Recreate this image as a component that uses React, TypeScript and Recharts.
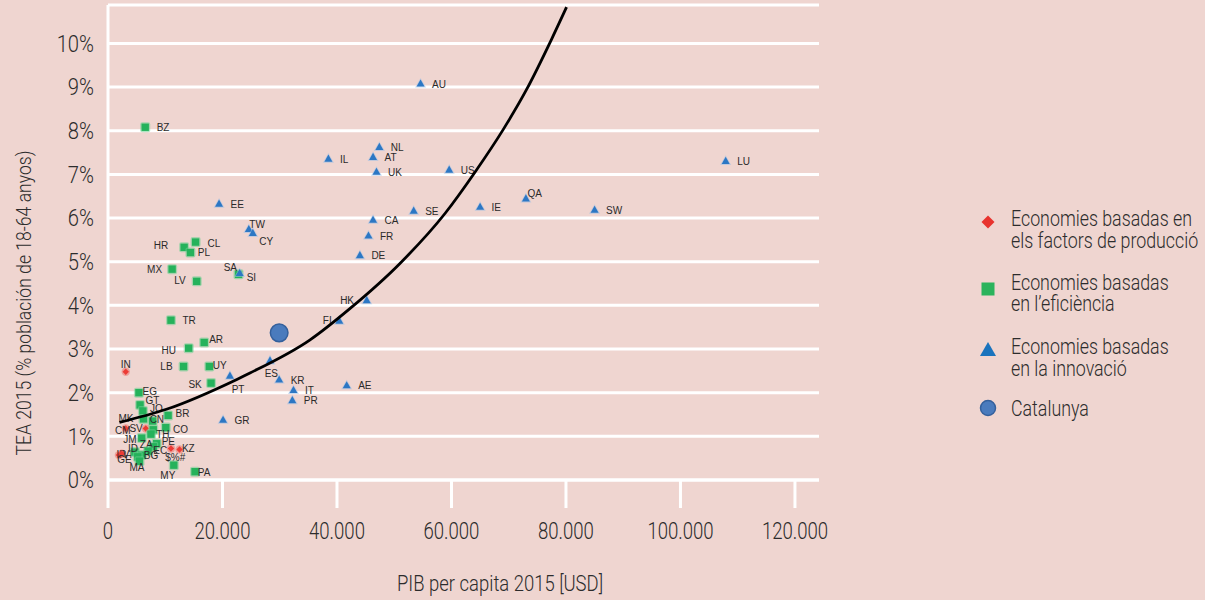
import React from 'react';
import { ScatterChart, Scatter, XAxis, YAxis, CartesianGrid, Legend, Label } from 'recharts';

// ---------- data ----------
const factorCodes = ['IN', 'CM', 'SV', 'IR', 'VN', '$%#', 'KZ'];
const factorGdp = [3100, 3100, 6600, 1900, 2400, 11000, 12500];
const factorTea = [2.48, 1.18, 1.18, 0.57, 0.60, 0.72, 0.70];

const efficiencyCodes = ['BZ', 'HR', 'CL', 'PL', 'MX', 'LV', 'SA', 'TR', 'AR', 'HU', 'LB', 'UY', 'SK', 'EG', 'GT', 'JO', 'BR', 'MK', 'CN', '', 'CO', 'TH', 'JM', 'PE', 'ZA', 'EC', 'ID', 'BG', 'GE', 'MA', 'MY', 'PA'];
const efficiencyGdp = [6500, 13300, 15300, 14400, 11200, 15500, 22800, 11000, 16800, 14100, 13200, 17700, 18000, 5400, 5600, 6100, 10500, 6200, 7800, 7900, 10100, 7500, 5900, 8500, 7900, 7000, 4700, 5900, 5200, 5500, 11500, 15200];
const efficiencyTea = [8.08, 5.33, 5.45, 5.21, 4.83, 4.55, 4.71, 3.66, 3.15, 3.02, 2.60, 2.60, 2.22, 2.00, 1.72, 1.58, 1.48, 1.40, 1.35, 1.15, 1.20, 1.05, 0.96, 0.83, 0.76, 0.66, 0.64, 0.57, 0.53, 0.43, 0.34, 0.19];

const innovationCodes = ['AU', 'NL', 'IL', 'AT', 'UK', 'US', 'LU', 'QA', 'SW', 'IE', 'SE', 'CA', 'FR', 'DE', 'EE', 'TW', 'CY', 'SI', 'HK', 'FI', 'ES', 'KR', 'IT', 'PR', 'AE', 'PT', 'GR'];
const innovationGdp = [54600, 47400, 38500, 46300, 46900, 59600, 107900, 73000, 85000, 65000, 53400, 46300, 45500, 44000, 19400, 24600, 25300, 23000, 45200, 40400, 28300, 29900, 32400, 32200, 41700, 21300, 20100];
const innovationTea = [9.07, 7.62, 7.35, 7.39, 7.05, 7.10, 7.30, 6.44, 6.18, 6.25, 6.16, 5.95, 5.59, 5.14, 6.32, 5.74, 5.65, 4.73, 4.11, 3.64, 2.73, 2.29, 2.05, 1.82, 2.16, 2.38, 1.37];

const catalunyaGdp = [29900];
const catalunyaTea = [3.37];

const trendGdp = [2000, 10200, 22600, 24800, 35300, 42300, 51000, 58900, 64100, 69000, 73100, 77500, 80100];
const trendTea = [1.32, 1.62, 2.31, 2.45, 3.21, 3.93, 4.96, 6.11, 7.05, 8.02, 8.94, 10.1, 10.83];

const xTicks = [0, 20000, 40000, 60000, 80000, 100000, 120000];
const yTicks = [0, 1, 2, 3, 4, 5, 6, 7, 8, 9, 10];

const legendLines = [
  ['Economies basadas en', 'els factors de producció'],
  ['Economies basadas', 'en l\u2019eficiència'],
  ['Economies basadas', 'en la innovació'],
  ['Catalunya'],
];

const xTitle = 'PIB per capita 2015 [USD]';
const yTitle = 'TEA 2015 (% población de 18-64 anyos)';

// ---------- build ----------
const build = (codes: string[], gdp: number[], tea: number[]) =>
  gdp.map((g, i) => ({ code: codes[i], x: g, y: tea[i] }));

const factorData = build(factorCodes, factorGdp, factorTea);
const efficiencyData = build(efficiencyCodes, efficiencyGdp, efficiencyTea);
const innovationData = build(innovationCodes, innovationGdp, innovationTea);
const catalunyaData = build(['Catalunya'], catalunyaGdp, catalunyaTea);
const trendData = trendGdp.map((g, i) => ({ x: g, y: trendTea[i] }));

// ---------- styles ----------
const BG = '#efd5d0';
const AXIS_FONT = "Roboto, 'Liberation Sans', sans-serif";
const LABEL_FONT = "'Liberation Sans', Arial, sans-serif";
const TEXT = '#2c2c2c';
const RED = '#ec3b35';
const GREEN = '#25b25b';
const BLUE = '#2c77c4';

// condensed text: horizontally scaled around its anchor point
const CText = ({ x, y, anchor = 'start', size = 22, sx = 0.8, rotate = 0, children }: any) => (
  <text
    transform={`translate(${x},${y})${rotate ? ` rotate(${rotate})` : ''} scale(${sx},1)`}
    x={0}
    y={0}
    textAnchor={anchor}
    fontSize={size}
    fontFamily={AXIS_FONT}
    fontWeight={300}
    fill={TEXT}
  >
    {children}
  </text>
);

// label placement: [dx, dy(baseline), anchor]
const labelPos: Record<string, [number, number, 'start' | 'end' | 'middle']> = {
  SA: [-1.5, -3, 'end'], SI: [7, 7.5, 'start'], HR: [-16, 2, 'end'], CL: [12, 4.5, 'start'],
  PL: [7.4, 3.5, 'start'], MX: [-10, 3.5, 'end'], LV: [-11, 2.5, 'end'], TW: [0.5, -1, 'start'],
  CY: [6.5, 11.5, 'start'], HK: [-12.7, 3.5, 'end'], FI: [-7.6, 2.5, 'end'], AR: [5, 0.5, 'start'],
  HU: [-12.7, 5.5, 'end'], IN: [0, -4, 'middle'], LB: [-11, 3.5, 'end'], UY: [3.4, 2.5, 'start'],
  SK: [-9.3, 4.5, 'end'], PT: [1.7, 17, 'start'], ES: [1.3, 16, 'middle'], EG: [3.7, 2, 'start'],
  GT: [5.4, -1.2, 'start'], JO: [7, 1, 'start'], BR: [7.4, 1.5, 'start'], MK: [-10, 3.5, 'end'],
  CN: [-3, 2, 'start'], CM: [-3, 5.5, 'middle'], SV: [-3, 4, 'end'], CO: [7.3, 5.5, 'start'],
  TH: [5.3, 3.8, 'start'], JM: [-5.3, 5, 'end'], ZA: [-7, 1.5, 'middle'], PE: [5, 1.5, 'start'],
  EC: [5.3, 2.5, 'start'], KZ: [2.4, 2.5, 'start'], '$%#': [4.3, 12, 'middle'], ID: [-2, 0, 'middle'],
  BG: [2, 3.5, 'start'], GE: [-6, 5.8, 'end'], MA: [-2.5, 9.5, 'middle'], MY: [-6, 14.2, 'middle'],
  PA: [2.7, 4, 'start'], QA: [1.6, -1.8, 'start'], IR: [-2.3, 2.5, 'start'], VN: [1, 4, 'start'],
};

const PointLabel = ({ cx, cy, code }: { cx: number; cy: number; code: string }) => {
  if (!code) return null;
  const p = labelPos[code] || [11.5, 3.8, 'start'];
  return (
    <text x={cx + p[0]} y={cy + p[1]} textAnchor={p[2]} fontSize={10} fontFamily={LABEL_FONT} fill="#2a2a2a">
      {code}
    </text>
  );
};

const RedShape = (props: any) => {
  const { cx, cy, payload } = props;
  return (
    <g>
      <circle cx={cx} cy={cy} r={4.2} fill={RED} opacity={0.35} />
      <path d={`M${cx},${cy - 3.2} L${cx + 3.2},${cy} L${cx},${cy + 3.2} L${cx - 3.2},${cy} Z`} fill={RED} />
      <PointLabel cx={cx} cy={cy} code={payload.code} />
    </g>
  );
};

const GreenShape = (props: any) => {
  const { cx, cy, payload } = props;
  return (
    <g>
      <rect x={cx - 5} y={cy - 5} width={10} height={10} fill="#6fcf92" opacity={0.55} rx={2} />
      <rect x={cx - 3.7} y={cy - 3.7} width={7.4} height={7.4} fill={GREEN} />
      <PointLabel cx={cx} cy={cy} code={payload.code} />
    </g>
  );
};

const BlueShape = (props: any) => {
  const { cx, cy, payload } = props;
  return (
    <g>
      <polygon points={`${cx},${cy - 6} ${cx + 5.5},${cy + 3.6} ${cx - 5.5},${cy + 3.6}`} fill="#9cc0e6" opacity={0.55} />
      <polygon points={`${cx},${cy - 4.5} ${cx + 4},${cy + 2.6} ${cx - 4},${cy + 2.6}`} fill={BLUE} />
      <PointLabel cx={cx} cy={cy} code={payload.code} />
    </g>
  );
};

const CatShape = (props: any) => {
  const { cx, cy } = props;
  return <circle cx={cx} cy={cy} r={8.8} fill="#4a7bbd" stroke="#34609c" strokeWidth={1.5} />;
};

const NoShape = () => <g />;

const fmt = (v: number) => String(v).replace(/\B(?=(\d{3})+(?!\d))/g, '.');

const YTick = (props: any) => {
  const { x, y, payload } = props;
  return <CText x={x} y={y + 8.2} anchor="end" size={23.5} sx={0.86}>{payload.value}%</CText>;
};

const XTick = (props: any) => {
  const { x, y, payload } = props;
  return <CText x={x} y={y + 31} anchor="middle" size={23.5} sx={0.79}>{fmt(payload.value)}</CText>;
};

const legendMarkers = [
  (cx: number, cy: number) => <path d={`M${cx},${cy - 6.5} L${cx + 6.5},${cy} L${cx},${cy + 6.5} L${cx - 6.5},${cy} Z`} fill="#e8332e" />,
  (cx: number, cy: number) => <rect x={cx - 6.5} y={cy - 6.5} width={13} height={13} fill="#2bb35c" />,
  (cx: number, cy: number) => <polygon points={`${cx},${cy - 8} ${cx + 8},${cy + 6} ${cx - 8},${cy + 6}`} fill="#1a73bd" />,
  (cx: number, cy: number) => <circle cx={cx} cy={cy} r={7.5} fill="#4a7bbd" stroke="#34609c" strokeWidth={1.5} />,
];
const legendMarkerY = [222, 289, 350, 408];
const legendTextY = [[218, 240], [282, 303], [346, 368], [408]];

const LegendContent = () => (
  <svg width={245} height={240} style={{ display: 'block' }}>
    <g transform="translate(-960,-190)">
      {legendLines.map((lines, i) => (
        <g key={i}>
          {legendMarkers[i](988, legendMarkerY[i])}
          {lines.map((t, j) => (
            <CText key={j} x={1011} y={legendTextY[i][j] + 7.8} size={22} sx={0.81}>
              {t}
            </CText>
          ))}
        </g>
      ))}
    </g>
  </svg>
);

export default function App() {
  return (
    <div style={{ position: 'absolute', left: 0, top: 0, width: 1205, height: 600, background: BG, overflow: 'hidden' }}>
      <ScatterChart width={1205} height={600} margin={{ top: 5, right: 386, bottom: 90, left: 48 }}>
        <CartesianGrid vertical={false} stroke="#ffffff" strokeWidth={3} />
        <XAxis
          type="number"
          dataKey="x"
          domain={[0, 124200]}
          ticks={xTicks}
          interval={0}
          height={30}
          axisLine={{ stroke: '#ffffff', strokeWidth: 3 }}
          tickLine={{ stroke: '#ffffff', strokeWidth: 3 }}
          tickSize={28}
          tickMargin={0}
          tick={<XTick />}
          allowDataOverflow
        >
          <Label content={() => <CText x={500} y={591} anchor="middle" size={22} sx={0.84}>{xTitle}</CText>} />
        </XAxis>
        <YAxis
          type="number"
          dataKey="y"
          domain={[0, 10.88]}
          ticks={yTicks}
          interval={0}
          width={60}
          axisLine={{ stroke: '#ffffff', strokeWidth: 3 }}
          tickLine={false}
          tickSize={0}
          tickMargin={14}
          tick={<YTick />}
          allowDataOverflow
        >
          <Label content={() => <CText x={31} y={303} anchor="middle" rotate={-90} size={20} sx={0.88}>{yTitle}</CText>} />
        </YAxis>
        <Legend
          layout="vertical"
          align="center"
          verticalAlign="middle"
          content={<LegendContent />}
          wrapperStyle={{ position: 'absolute', left: 960, top: 190, width: 245, height: 240 }}
        />
        <Scatter name="factors" data={factorData} shape={<RedShape />} isAnimationActive={false} />
        <Scatter name="eficiencia" data={efficiencyData} shape={<GreenShape />} isAnimationActive={false} />
        <Scatter name="innovacio" data={innovationData} shape={<BlueShape />} isAnimationActive={false} />
        <Scatter name="Catalunya" data={catalunyaData} shape={<CatShape />} isAnimationActive={false} />
        <Scatter
          name="trend"
          data={trendData}
          line={{ stroke: '#000000', strokeWidth: 2.8 }}
          lineJointType="monotoneX"
          shape={<NoShape />}
          isAnimationActive={false}
          legendType="none"
        />
      </ScatterChart>
    </div>
  );
}
